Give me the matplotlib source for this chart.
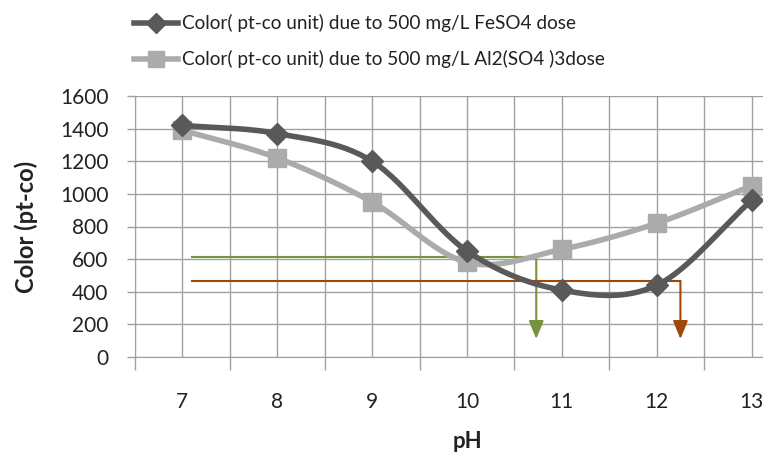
import numpy as np
import matplotlib
matplotlib.use("Agg")
import matplotlib.pyplot as plt
from matplotlib.lines import Line2D

plt.rcParams['font.family'] = ['Lato', 'DejaVu Sans']

ph = [7, 8, 9, 10, 11, 12, 13]
feso4 = [1420, 1370, 1200, 650, 410, 440, 960]
alum = [1390, 1220, 950, 580, 660, 820, 1050]
labels = ["Color( pt-co unit) due to 500 mg/L FeSO4 dose",
          "Color( pt-co unit) due to 500 mg/L Al2(SO4 )3dose"]
yticks = [0, 200, 400, 600, 800, 1000, 1200, 1400, 1600]
# guide lines (y level, x start, x end, arrow tip y)
green_guide = (615, 7.1, 10.73, 110)
brown_guide = (466, 7.1, 12.25, 110)

dark = '#595959'
light = '#ABABAB'
green = '#77933C'
brown = '#A0470A'


def smooth(x, y, n=30):
    x = np.asarray(x, float); y = np.asarray(y, float)
    px = np.concatenate([[2*x[0]-x[1]], x, [2*x[-1]-x[-2]]])
    py = np.concatenate([[2*y[0]-y[1]], y, [2*y[-1]-y[-2]]])
    xs, ys = [], []
    t = np.linspace(0, 1, n)
    for i in range(1, len(px)-2):
        p0, p1, p2, p3 = [np.array([px[j], py[j]]) for j in range(i-1, i+3)]
        pts = 0.5*((2*p1)[:, None] + (-p0+p2)[:, None]*t + (2*p0-5*p1+4*p2-p3)[:, None]*t**2
                   + (-p0+3*p1-3*p2+p3)[:, None]*t**3)
        xs.extend(pts[0]); ys.extend(pts[1])
    return xs, ys


fig = plt.figure(figsize=(7.63, 4.55), dpi=100)
ax = fig.add_axes([135/763, 1-357/455, (799-135)/763, 261/455])

ax.set_xlim(6.5, 13.5)
ax.set_ylim(0, 1600)
ax.set_yticks(yticks)
ax.set_xticks(ph)
ax.set_xticks(np.arange(6.5, 14, 1.0), minor=True)
ax.grid(True, which='both', color='#A0A0A0', linewidth=1.0)
ax.set_axisbelow(True)
ax.tick_params(axis='x', which='major', length=0, pad=25, labelsize=15)
ax.tick_params(axis='x', which='minor', length=9, color='#A0A0A0', width=1.0)
ax.tick_params(axis='y', which='major', length=6, color='#A0A0A0', width=1.0, labelsize=15, pad=13)
for s in ['top', 'right']:
    ax.spines[s].set_visible(False)
for s in ['left', 'bottom']:
    ax.spines[s].set_color('#A0A0A0')
for lbl in ax.get_yticklabels() + ax.get_xticklabels():
    lbl.set_color('#222222')

# guide lines
for (yl, x0, x1, tip), c in [(green_guide, green), (brown_guide, brown)]:
    ax.plot([x0, x1], [yl, yl], color=c, lw=1.5, zorder=2)
    ax.annotate('', xy=(x1, tip), xytext=(x1, yl),
                arrowprops=dict(arrowstyle='-|>,head_length=1.1,head_width=0.45', color=c, lw=1.5,
                                shrinkA=0, shrinkB=0), zorder=2)

sx, sy = smooth(ph, alum)
ax.plot(sx, sy, color=light, lw=4, zorder=3, solid_capstyle='round')
ax.plot(ph, alum, ls='none', marker='s', ms=13, color=light, zorder=4)
sx, sy = smooth(ph, feso4)
ax.plot(sx, sy, color=dark, lw=4, zorder=5, solid_capstyle='round')
ax.plot(ph, feso4, ls='none', marker='D', ms=11, color=dark, zorder=6)

ax.set_xlabel('pH', fontsize=16, fontweight='bold', labelpad=14, color='#222222')
ax.set_ylabel('Color (pt-co)', fontsize=17, fontweight='bold', labelpad=16, color='#222222')

handles = [Line2D([], [], color=dark, lw=4, marker='D', ms=10),
           Line2D([], [], color=light, lw=4, marker='s', ms=12)]
fig.legend(handles, labels, loc='upper left', bbox_to_anchor=(117/763, 1 + 3/455), frameon=False,
           fontsize=13.7, handlelength=2.3, handletextpad=0.2, labelspacing=0.95,
           labelcolor='#222222')

fig.savefig('out.png', dpi=100)
